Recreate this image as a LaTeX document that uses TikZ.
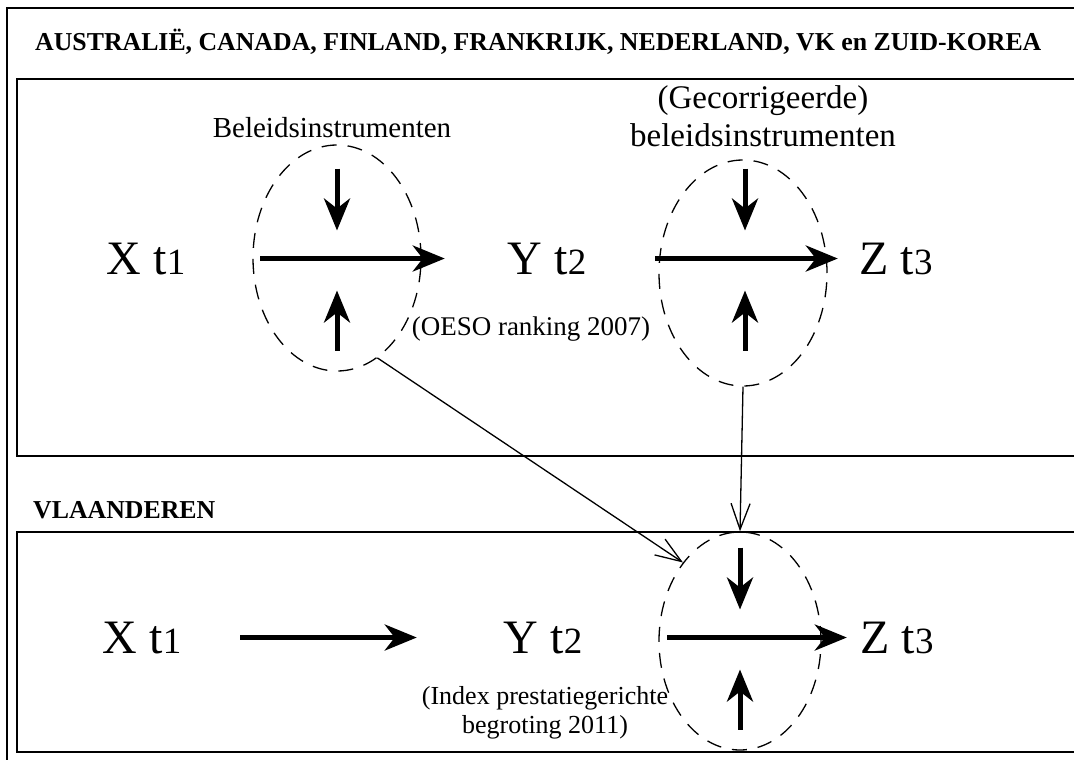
\documentclass[tikz,border=0pt]{standalone}
\usepackage{fontspec}
\setmainfont{Liberation Serif}
\usetikzlibrary{shapes.geometric, arrows.meta, positioning}

\begin{document}
\begin{tikzpicture}[x=1pt, y=-1pt,
		bigarrow/.style={line width=5pt, -{Stealth[length=32pt, width=26pt, inset=10pt]}},
		linkarrow/.style={line width=1.3pt, -{Straight Barb[length=26pt, width=19pt]}},
		instrument/.style={ellipse, draw, line width=1.3pt, dash pattern=on 15pt off 11pt, inner sep=0pt},
		varlabel/.style={anchor=base, inner sep=0pt, font=\fontsize{48}{55}\selectfont},
		headlabel/.style={anchor=base west, inner sep=0pt, font=\bfseries\fontsize{25.8}{30}\selectfont}]
		\useasboundingbox (0,0) rectangle (1074,760);
		\clip (0,0) rectangle (1074,760);

		% Index digit of a variable, set smaller on the same baseline.
		\newcommand{\tdigit}[1]{{\fontsize{37}{42}\selectfont #1}}

		% Define the macro.
		% 1st argument: crossing point the two vertical arrows press on.
		\newcommand{\pressArrows}[1]{
			\draw[bigarrow] ([yshift=90pt]#1) -- ([yshift=28pt]#1);   % from above
			\draw[bigarrow] ([yshift=-92pt]#1) -- ([yshift=-32pt]#1); % from below
		}

		% Frames
		\draw[line width=2.2pt] (7,8) rectangle (1100,790);
		\draw[line width=1.4pt] (17,79) rectangle (1100,456);
		\draw[line width=1.4pt] (17,532) rectangle (1100,752);

		\node[headlabel] (countries) at (35,51) {AUSTRALIË, CANADA, FINLAND, FRANKRIJK, NEDERLAND, VK en ZUID-KOREA};
		\node[headlabel] (flanders) at (33,518) {VLAANDEREN};

		% Upper row
		\node[varlabel] (x1) at (146,274) {X t\tdigit{1}};
		\node[varlabel] (y1) at (547,274) {Y t\tdigit{2}};
		\node[varlabel] (z1) at (896,274) {Z t\tdigit{3}};

		\node[instrument, minimum width=168pt, minimum height=226pt] (inst1) at (337,258) {};
		\node[instrument, minimum width=168pt, minimum height=226pt] (inst2) at (743,273) {};

		\node[anchor=base, font=\fontsize{29}{33}\selectfont] (tools1) at (332,137) {Beleidsinstrumenten};
		\node[align=center, inner sep=0pt, font=\fontsize{33}{38}\selectfont] (tools2) at (763,116) {(Gecorrigeerde)\\beleidsinstrumenten};
		\node[anchor=base, font=\fontsize{27}{31}\selectfont] (rank) at (531,335) {(OESO ranking 2007)};

		\draw[bigarrow, shorten <=74.8pt, shorten >=62.8pt] (x1) -- (y1);
		\draw[bigarrow, shorten <=68.8pt, shorten >=21.4pt] (y1) -- (z1);

		\coordinate (c1) at (inst1 |- x1);
		\coordinate (c2) at ([xshift=2pt]inst2 |- y1);
		\pressArrows{c1}
		\pressArrows{c2}

		% Lower row
		\node[varlabel] (x2) at (142,653) {X t\tdigit{1}};
		\node[varlabel] (y2) at (543,653) {Y t\tdigit{2}};
		\node[varlabel] (z2) at (897,653) {Z t\tdigit{3}};

		\node[instrument, minimum width=162pt, minimum height=218pt] (inst3) at (740,641) {};
		\node[align=center, inner sep=0pt, font=\fontsize{26}{29}\selectfont] (budget) at (545,713) {(Index prestatiegerichte\\begroting 2011)};

		\draw[bigarrow, shorten <=58.8pt, shorten >=86.8pt] (x2) -- (y2);
		\draw[bigarrow, shorten <=84.8pt, shorten >=13.4pt] (y2) -- (z2);

		\coordinate (c3) at (inst3 |- y2);
		\pressArrows{c3}

		% Links between the rows
		\draw[linkarrow] (inst1.-68) -- (inst3.126);
		\draw[linkarrow] (inst2.south) -- (inst3.north);
\end{tikzpicture}
\end{document}
